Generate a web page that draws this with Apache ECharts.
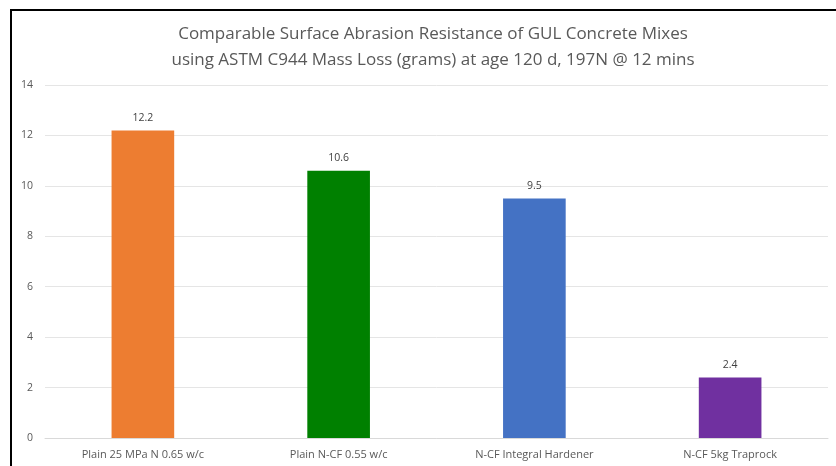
<!DOCTYPE html>
<html><head><meta charset="utf-8">
<script src="https://cdn.jsdelivr.net/npm/echarts@6/dist/echarts.min.js"></script>
<style>html,body{margin:0;padding:0;background:#fff}#c{width:836px;height:466px}</style>
</head><body><div id="c"></div>
<script>
const titleLines = ['Comparable Surface Abrasion Resistance of GUL Concrete Mixes', 'using ASTM C944 Mass Loss (grams) at age 120 d, 197N @ 12 mins'];
const categories = ['Plain 25 MPa N 0.65 w/c', 'Plain N-CF 0.55 w/c', 'N-CF Integral Hardener', 'N-CF 5kg Traprock'];
const values = [12.2, 10.6, 9.5, 2.4];
const barColors = ['#ED7D31', '#008000', '#4472C4', '#7030A0'];
const yTicks = [0, 2, 4, 6, 8, 10, 12, 14];

const FONT = '"Open Sans", sans-serif';
const chart = echarts.init(document.getElementById('c'), null, {renderer: 'canvas'});
chart.setOption({
  backgroundColor: '#fff',
  animation: false,
  title: {
    text: titleLines.join('\n'),
    left: 428, top: 16, textAlign: 'center',
    textStyle: {fontFamily: FONT, fontSize: 17, fontWeight: 'normal', color: '#595959', lineHeight: 26}
  },
  graphic: [{
    type: 'rect', shape: {x: 11, y: 10, width: 900, height: 500},
    style: {fill: 'none', stroke: '#000', lineWidth: 2}, z: 100
  }],
  grid: {left: 45, right: 8, top: 85, bottom: 28},
  xAxis: {
    type: 'category', data: categories,
    axisLine: {lineStyle: {color: '#d9d9d9', width: 1}},
    axisTick: {show: false},
    axisLabel: {fontFamily: FONT, fontSize: 11, color: '#595959', margin: 11}
  },
  yAxis: {
    type: 'value', min: yTicks[0], max: yTicks[yTicks.length - 1], interval: 2,
    axisLine: {show: false}, axisTick: {show: false},
    splitLine: {lineStyle: {color: '#e5e5e5', width: 1}},
    axisLabel: {fontFamily: FONT, fontSize: 10.5, color: '#595959', margin: 12}
  },
  series: [{
    type: 'bar', barWidth: '32%',
    data: values.map((v, i) => ({value: v, itemStyle: {color: barColors[i]}})),
    label: {show: true, position: 'top', distance: 7, fontFamily: FONT, fontSize: 10.5, color: '#404040'}
  }]
});
</script></body></html>
